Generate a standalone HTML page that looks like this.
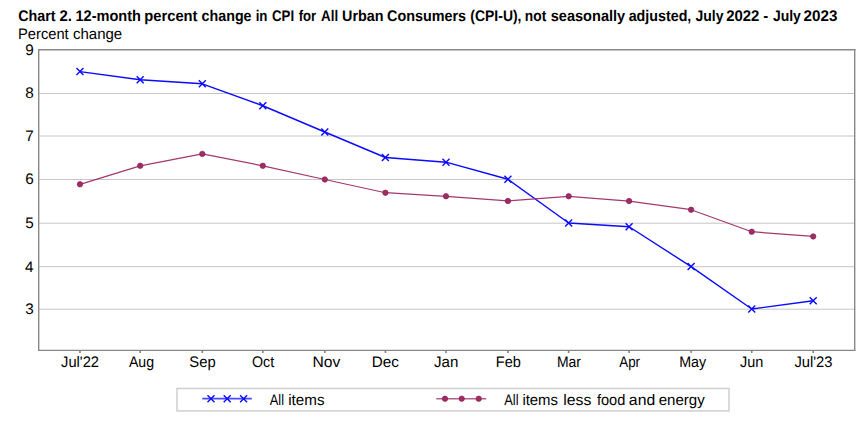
<!DOCTYPE html>
<html><head><meta charset="utf-8"><title>Chart 2</title><style>html,body{margin:0;padding:0;background:#fff;overflow:hidden}svg{display:block}</style></head><body>
<svg width="867" height="421" viewBox="0 0 867 421">
<rect width="867" height="421" fill="#fff"/>
<g font-family="'Liberation Sans', Arial, sans-serif" fill="#000" text-rendering="geometricPrecision">
<g font-size="15.4" font-weight="bold" text-rendering="geometricPrecision"><text x="18.25" y="20.9" textLength="37.28" lengthAdjust="spacingAndGlyphs">Chart</text><text x="59.47" y="20.9" textLength="12.44" lengthAdjust="spacingAndGlyphs">2.</text><text x="75.50" y="20.9" textLength="65.51" lengthAdjust="spacingAndGlyphs">12-month</text><text x="144.29" y="20.9" textLength="53.26" lengthAdjust="spacingAndGlyphs">percent</text><text x="201.59" y="20.9" textLength="49.96" lengthAdjust="spacingAndGlyphs">change</text><text x="255.69" y="20.9" textLength="11.77" lengthAdjust="spacingAndGlyphs">in</text><text x="272.00" y="20.9" textLength="22.13" lengthAdjust="spacingAndGlyphs">CPI</text><text x="298.74" y="20.9" textLength="17.45" lengthAdjust="spacingAndGlyphs">for</text><text x="321.12" y="20.9" textLength="17.05" lengthAdjust="spacingAndGlyphs">All</text><text x="342.12" y="20.9" textLength="41.43" lengthAdjust="spacingAndGlyphs">Urban</text><text x="387.05" y="20.9" textLength="79.03" lengthAdjust="spacingAndGlyphs">Consumers</text><text x="470.37" y="20.9" textLength="51.13" lengthAdjust="spacingAndGlyphs">(CPI-U),</text><text x="524.86" y="20.9" textLength="21.36" lengthAdjust="spacingAndGlyphs">not</text><text x="550.78" y="20.9" textLength="74.38" lengthAdjust="spacingAndGlyphs">seasonally</text><text x="628.69" y="20.9" textLength="62.65" lengthAdjust="spacingAndGlyphs">adjusted,</text><text x="695.52" y="20.9" textLength="27.97" lengthAdjust="spacingAndGlyphs">July</text><text x="726.16" y="20.9" textLength="33.27" lengthAdjust="spacingAndGlyphs">2022</text><text x="763.36" y="20.9" textLength="5.01" lengthAdjust="spacingAndGlyphs">-</text><text x="772.92" y="20.9" textLength="27.97" lengthAdjust="spacingAndGlyphs">July</text><text x="803.56" y="20.9" textLength="33.89" lengthAdjust="spacingAndGlyphs">2023</text></g>
<g font-size="15.3"><text x="18.05" y="38.95" textLength="50.61" lengthAdjust="spacingAndGlyphs">Percent</text><text x="72.91" y="38.95" textLength="49.31" lengthAdjust="spacingAndGlyphs">change</text></g>
</g>
<line x1="39.4" x2="854" y1="309.20" y2="309.20" stroke="#c6c6c6" stroke-width="1"/>
<line x1="39.4" x2="854" y1="266.70" y2="266.70" stroke="#c6c6c6" stroke-width="1"/>
<line x1="39.4" x2="854" y1="223.20" y2="223.20" stroke="#c6c6c6" stroke-width="1"/>
<line x1="39.4" x2="854" y1="179.50" y2="179.50" stroke="#c6c6c6" stroke-width="1"/>
<line x1="39.4" x2="854" y1="136.00" y2="136.00" stroke="#c6c6c6" stroke-width="1"/>
<line x1="39.4" x2="854" y1="93.50" y2="93.50" stroke="#c6c6c6" stroke-width="1"/>
<line x1="38" x2="855.4" y1="49.8" y2="49.8" stroke="#888" stroke-width="1.4"/>
<line x1="38" x2="855.4" y1="350.4" y2="350.4" stroke="#888" stroke-width="1.3"/>
<line x1="38.7" x2="38.7" y1="49.1" y2="351.1" stroke="#888" stroke-width="1.4"/>
<line x1="854.7" x2="854.7" y1="49.1" y2="351.1" stroke="#888" stroke-width="1.4"/>
<g font-family="'Liberation Sans', Arial, sans-serif" fill="#000" text-rendering="geometricPrecision">
<text x="25.35" y="313.9" font-size="15.3" text-rendering="geometricPrecision">3</text>
<text x="25.10" y="271.9" font-size="15.3" text-rendering="geometricPrecision">4</text>
<text x="25.35" y="227.9" font-size="15.3" text-rendering="geometricPrecision">5</text>
<text x="25.35" y="183.9" font-size="15.3" text-rendering="geometricPrecision">6</text>
<text x="25.35" y="141" font-size="15.3" text-rendering="geometricPrecision">7</text>
<text x="25.35" y="97.9" font-size="15.3" text-rendering="geometricPrecision">8</text>
<text x="25.35" y="54.8" font-size="15.3" text-rendering="geometricPrecision">9</text>
<text x="61.06" y="367" font-size="15.3" textLength="38.01" lengthAdjust="spacingAndGlyphs">Jul'22</text>
<text x="128.90" y="367" font-size="15.3" textLength="25.14" lengthAdjust="spacingAndGlyphs">Aug</text>
<text x="189.32" y="367" font-size="15.3" textLength="26.32" lengthAdjust="spacingAndGlyphs">Sep</text>
<text x="252.01" y="367" font-size="15.3" textLength="22.18" lengthAdjust="spacingAndGlyphs">Oct</text>
<text x="312.52" y="367" font-size="15.3" textLength="27.84" lengthAdjust="spacingAndGlyphs">Nov</text>
<text x="371.70" y="367" font-size="15.3" textLength="27.10" lengthAdjust="spacingAndGlyphs">Dec</text>
<text x="434.00" y="367" font-size="15.3" textLength="24.36" lengthAdjust="spacingAndGlyphs">Jan</text>
<text x="495.76" y="367" font-size="15.3" textLength="25.07" lengthAdjust="spacingAndGlyphs">Feb</text>
<text x="556.95" y="367" font-size="15.3" textLength="24.03" lengthAdjust="spacingAndGlyphs">Mar</text>
<text x="619.25" y="367" font-size="15.3" textLength="20.77" lengthAdjust="spacingAndGlyphs">Apr</text>
<text x="679.23" y="367" font-size="15.3" textLength="26.96" lengthAdjust="spacingAndGlyphs">May</text>
<text x="740.11" y="367" font-size="15.3" textLength="23.31" lengthAdjust="spacingAndGlyphs">Jun</text>
<text x="794.41" y="367" font-size="15.3" textLength="38.17" lengthAdjust="spacingAndGlyphs">Jul'23</text>
</g>
<line x1="79.95" x2="79.95" y1="350.5" y2="353" stroke="#808080" stroke-width="1.6"/>
<line x1="140.20" x2="140.20" y1="350.5" y2="353" stroke="#808080" stroke-width="1.6"/>
<line x1="202.30" x2="202.30" y1="350.5" y2="353" stroke="#808080" stroke-width="1.6"/>
<line x1="262.80" x2="262.80" y1="350.5" y2="353" stroke="#808080" stroke-width="1.6"/>
<line x1="324.80" x2="324.80" y1="350.5" y2="353" stroke="#808080" stroke-width="1.6"/>
<line x1="385.40" x2="385.40" y1="350.5" y2="353" stroke="#808080" stroke-width="1.6"/>
<line x1="446.00" x2="446.00" y1="350.5" y2="353" stroke="#808080" stroke-width="1.6"/>
<line x1="507.90" x2="507.90" y1="350.5" y2="353" stroke="#808080" stroke-width="1.6"/>
<line x1="568.65" x2="568.65" y1="350.5" y2="353" stroke="#808080" stroke-width="1.6"/>
<line x1="629.10" x2="629.10" y1="350.5" y2="353" stroke="#808080" stroke-width="1.6"/>
<line x1="691.10" x2="691.10" y1="350.5" y2="353" stroke="#808080" stroke-width="1.6"/>
<line x1="751.75" x2="751.75" y1="350.5" y2="353" stroke="#808080" stroke-width="1.6"/>
<line x1="813.20" x2="813.20" y1="350.5" y2="353" stroke="#808080" stroke-width="1.6"/>
<polyline points="79.95,71.60 140.20,79.74 202.30,83.80 262.80,105.76 324.80,132.00 385.40,157.50 446.00,162.20 507.90,179.26 568.65,222.98 629.10,226.74 691.10,266.60 751.75,308.98 813.20,300.80" fill="none" stroke="#0a0aff" stroke-width="1.4" stroke-linejoin="round"/>
<path d="M76.45,68.10L83.45,75.10M76.45,75.10L83.45,68.10" stroke="#0a0aff" stroke-width="1.4" fill="none"/>
<path d="M136.70,76.24L143.70,83.24M136.70,83.24L143.70,76.24" stroke="#0a0aff" stroke-width="1.4" fill="none"/>
<path d="M198.80,80.30L205.80,87.30M198.80,87.30L205.80,80.30" stroke="#0a0aff" stroke-width="1.4" fill="none"/>
<path d="M259.30,102.26L266.30,109.26M259.30,109.26L266.30,102.26" stroke="#0a0aff" stroke-width="1.4" fill="none"/>
<path d="M321.30,128.50L328.30,135.50M321.30,135.50L328.30,128.50" stroke="#0a0aff" stroke-width="1.4" fill="none"/>
<path d="M381.90,154.00L388.90,161.00M381.90,161.00L388.90,154.00" stroke="#0a0aff" stroke-width="1.4" fill="none"/>
<path d="M442.50,158.70L449.50,165.70M442.50,165.70L449.50,158.70" stroke="#0a0aff" stroke-width="1.4" fill="none"/>
<path d="M504.40,175.76L511.40,182.76M504.40,182.76L511.40,175.76" stroke="#0a0aff" stroke-width="1.4" fill="none"/>
<path d="M565.15,219.48L572.15,226.48M565.15,226.48L572.15,219.48" stroke="#0a0aff" stroke-width="1.4" fill="none"/>
<path d="M625.60,223.24L632.60,230.24M625.60,230.24L632.60,223.24" stroke="#0a0aff" stroke-width="1.4" fill="none"/>
<path d="M687.60,263.10L694.60,270.10M687.60,270.10L694.60,263.10" stroke="#0a0aff" stroke-width="1.4" fill="none"/>
<path d="M748.25,305.48L755.25,312.48M748.25,312.48L755.25,305.48" stroke="#0a0aff" stroke-width="1.4" fill="none"/>
<path d="M809.70,297.30L816.70,304.30M809.70,304.30L816.70,297.30" stroke="#0a0aff" stroke-width="1.4" fill="none"/>
<polyline points="79.95,184.30 140.20,165.80 202.30,153.90 262.80,165.80 324.80,179.50 385.40,192.74 446.00,196.26 507.90,200.98 568.65,196.26 629.10,201.07 691.10,209.74 751.75,231.74 813.20,236.45" fill="none" stroke="#a3386c" stroke-width="1.25" stroke-linejoin="round"/>
<circle cx="79.95" cy="184.30" r="2.7" fill="#a02c66" stroke="#8a2258" stroke-width="0.7"/>
<circle cx="140.20" cy="165.80" r="2.7" fill="#a02c66" stroke="#8a2258" stroke-width="0.7"/>
<circle cx="202.30" cy="153.90" r="2.7" fill="#a02c66" stroke="#8a2258" stroke-width="0.7"/>
<circle cx="262.80" cy="165.80" r="2.7" fill="#a02c66" stroke="#8a2258" stroke-width="0.7"/>
<circle cx="324.80" cy="179.50" r="2.7" fill="#a02c66" stroke="#8a2258" stroke-width="0.7"/>
<circle cx="385.40" cy="192.74" r="2.7" fill="#a02c66" stroke="#8a2258" stroke-width="0.7"/>
<circle cx="446.00" cy="196.26" r="2.7" fill="#a02c66" stroke="#8a2258" stroke-width="0.7"/>
<circle cx="507.90" cy="200.98" r="2.7" fill="#a02c66" stroke="#8a2258" stroke-width="0.7"/>
<circle cx="568.65" cy="196.26" r="2.7" fill="#a02c66" stroke="#8a2258" stroke-width="0.7"/>
<circle cx="629.10" cy="201.07" r="2.7" fill="#a02c66" stroke="#8a2258" stroke-width="0.7"/>
<circle cx="691.10" cy="209.74" r="2.7" fill="#a02c66" stroke="#8a2258" stroke-width="0.7"/>
<circle cx="751.75" cy="231.74" r="2.7" fill="#a02c66" stroke="#8a2258" stroke-width="0.7"/>
<circle cx="813.20" cy="236.45" r="2.7" fill="#a02c66" stroke="#8a2258" stroke-width="0.7"/>
<rect x="177" y="388.5" width="552" height="22.4" fill="#fff" stroke="#cfcfcf" stroke-width="1.5"/>
<line x1="202.3" x2="251.8" y1="398.7" y2="398.7" stroke="#4a4aff" stroke-width="1.7"/>
<path d="M207.50,395.20L214.50,402.20M207.50,402.20L214.50,395.20" stroke="#0a0aff" stroke-width="1.4" fill="none"/>
<path d="M223.70,395.20L230.70,402.20M223.70,402.20L230.70,395.20" stroke="#0a0aff" stroke-width="1.4" fill="none"/>
<path d="M240.10,395.20L247.10,402.20M240.10,402.20L247.10,395.20" stroke="#0a0aff" stroke-width="1.4" fill="none"/>
<line x1="436.3" x2="486.2" y1="398.7" y2="398.7" stroke="#b2608c" stroke-width="1.6"/>
<circle cx="445" cy="398.7" r="2.7" fill="#a02c66" stroke="#8a2258" stroke-width="0.7"/>
<circle cx="461.7" cy="398.7" r="2.7" fill="#a02c66" stroke="#8a2258" stroke-width="0.7"/>
<circle cx="478.7" cy="398.7" r="2.7" fill="#a02c66" stroke="#8a2258" stroke-width="0.7"/>
<g font-family="'Liberation Sans', Arial, sans-serif" fill="#000" text-rendering="geometricPrecision">
<g font-size="15.3"><text x="269.75" y="404.95" textLength="14.24" lengthAdjust="spacingAndGlyphs">All</text><text x="288.26" y="404.95" textLength="36.23" lengthAdjust="spacingAndGlyphs">items</text></g>
<g font-size="15.3"><text x="504.25" y="404.95" textLength="14.24" lengthAdjust="spacingAndGlyphs">All</text><text x="522.38" y="404.95" textLength="35.61" lengthAdjust="spacingAndGlyphs">items</text><text x="563.22" y="404.95" textLength="28.10" lengthAdjust="spacingAndGlyphs">less</text><text x="596.91" y="404.95" textLength="28.42" lengthAdjust="spacingAndGlyphs">food</text><text x="628.88" y="404.95" textLength="26.34" lengthAdjust="spacingAndGlyphs">and</text><text x="658.71" y="404.95" textLength="45.97" lengthAdjust="spacingAndGlyphs">energy</text></g>
</g>
</svg>
</body></html>
